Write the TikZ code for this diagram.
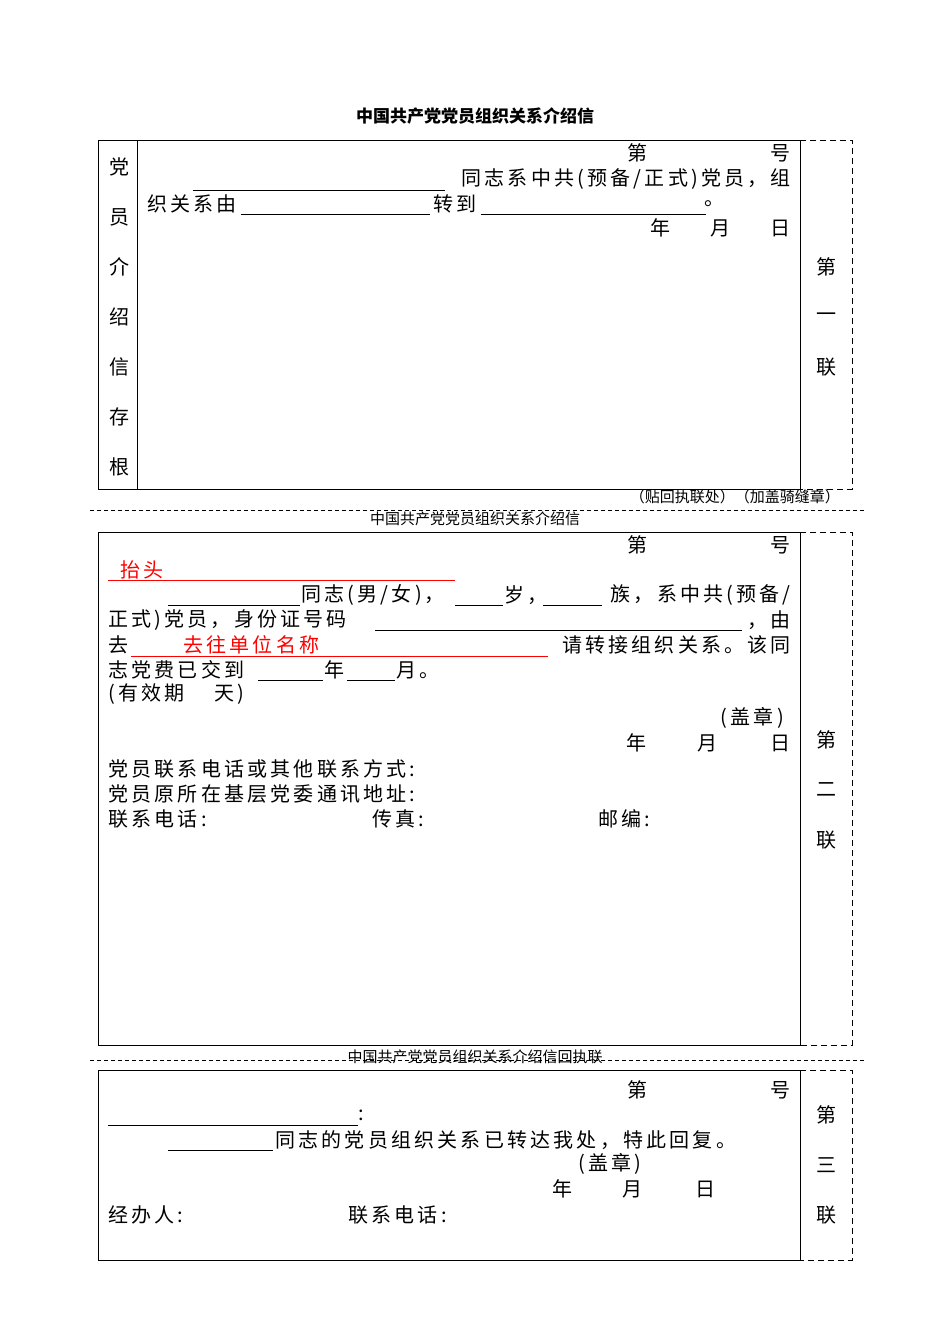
\documentclass[tikz,border=0pt]{standalone}
\usepackage{fontspec}
\setmainfont{Noto Sans CJK SC}[LetterSpace=16]
\newfontfamily\plainf{Noto Sans CJK SC}
\begin{document}
\begin{tikzpicture}[x=1pt,y=-1pt,
  t/.style={inner sep=0pt,font=\fontsize{20}{20}\selectfont},
  tw/.style={t,anchor=west},
  te/.style={t,anchor=east},
  sm/.style={inner sep=0pt,font=\plainf\fontsize{15}{15}\selectfont},
  ul/.style={line width=1pt},
  rul/.style={line width=1pt,red},
  dsh/.style={dashed,dash pattern=on 6pt off 4pt,line width=0.8pt},
  frame/.style={line width=0.8pt}]
\useasboundingbox (0,0) rectangle (950,1344);
\node[inner sep=0pt,font=\plainf\bfseries\fontsize{17}{17}\selectfont] (title) at (475,116) {中国共产党党员组织关系介绍信};
% section 1
\draw[frame] (98,140) rectangle (800,489);
\draw[frame] (137,140) -- (137,489);
\draw[dsh] (800,140) -- (852,140) -- (852,489) -- (800,489);
\foreach \c [count=\i] in {党,员,介,绍,信,存,根}
  \node[t] (l\i) at (119,117+50*\i) {\c};
\foreach \c [count=\i] in {第,一,联}
  \node[t] (r\i) at (826,217+50*\i) {\c};
\node[t] (a1) at (637,153) {第};
\node[t] (a2) at (780,153) {号};
\draw[ul] (193,190) -- (445,190);
\node[te] (a3) at (791,179) {同志系中共(预备/正式)党员，组};
\node[tw] (a4) at (147,204) {织关系由};
\draw[ul] (241,214) -- (430,214);
\node[tw] (a5) at (433,204) {转到};
\draw[ul] (481,214) -- (706,214);
\node[tw] (a6) at (704,204) {。};
\node[t] (a7) at (660,228) {年};
\node[t] (a8) at (720,228) {月};
\node[t] (a9) at (780,228) {日};
\node[sm,anchor=east] (a10) at (840,497) {（贴回执联处）（加盖骑缝章）};
\draw[dsh,dash pattern=on 4pt off 3pt] (90,510) -- (865,510);
\node[sm] (h2) at (475,519) {中国共产党党员组织关系介绍信};
% section 2
\draw[frame] (98,532) rectangle (800,1045);
\draw[dsh] (800,532) -- (852,532) -- (852,1045) -- (800,1045);
\foreach \c [count=\i] in {第,二,联}
  \node[t] (s\i) at (826,690+50*\i) {\c};
\node[t] (b1) at (637,545) {第};
\node[t] (b2) at (780,545) {号};
\node[tw,red] (b3) at (120,570) {抬头};
\draw[rul] (108,580) -- (455,580);
\draw[ul] (168,605) -- (300,605);
\node[tw] (b4) at (301,595) {同志(男/女)，};
\draw[ul] (455,605) -- (503,605);
\node[tw] (b5) at (504,595) {岁，};
\draw[ul] (543,605) -- (602,605);
\node[te] (b6) at (791,595) {族，系中共(预备/};
\node[tw] (b7) at (108,620) {正式)党员，身份证号码};
\draw[ul] (375,630) -- (742,630);
\node[te] (b8) at (791,620) {，由};
\node[tw] (b9) at (108,645) {去};
\draw[rul] (131,656) -- (548,656);
\node[tw,red] (b10) at (183,645) {去往单位名称};
\node[te] (b11) at (791,645) {请转接组织关系。该同};
\node[tw] (b12) at (108,670) {志党费已交到};
\draw[ul] (258,680) -- (323,680);
\node[tw] (b13) at (324,670) {年};
\draw[ul] (347,680) -- (395,680);
\node[tw] (b14) at (396,670) {月。};
\node[tw] (b15) at (108,694) {(有效期\hspace{30pt}天)};
\node[te] (b16) at (784,718) {(盖章)};
\node[t] (b17) at (636,743) {年};
\node[t] (b18) at (707,743) {月};
\node[t] (b19) at (780,743) {日};
\node[tw] (b20) at (108,769) {党员联系电话或其他联系方式:};
\node[tw] (b21) at (108,794) {党员原所在基层党委通讯地址:};
\node[tw] (b22) at (108,819) {联系电话:};
\node[tw] (b23) at (372,819) {传真:};
\node[tw] (b24) at (598,819) {邮编:};
\draw[dsh,dash pattern=on 4pt off 3pt] (90,1060) -- (865,1060);
\node[sm] (h3) at (475,1057) {中国共产党党员组织关系介绍信回执联};
% section 3
\draw[frame] (98,1070) rectangle (800,1260);
\draw[dsh] (800,1070) -- (852,1070) -- (852,1260) -- (800,1260);
\foreach \c [count=\i] in {第,三,联}
  \node[t] (u\i) at (826,1065+50*\i) {\c};
\node[t] (c1) at (637,1090) {第};
\node[t] (c2) at (780,1090) {号};
\draw[ul] (108,1125) -- (358,1125);
\node[tw] (c3) at (358,1115) {:};
\draw[ul] (168,1150) -- (273,1150);
\node[tw] (c4) at (275,1140) {同志的党员组织关系已转达我处，特此回复。};
\node[t] (c5) at (610,1164) {(盖章)};
\node[t] (c6) at (562,1189) {年};
\node[t] (c7) at (632,1189) {月};
\node[t] (c8) at (705,1189) {日};
\node[tw] (c9) at (108,1215) {经办人:};
\node[tw] (c10) at (348,1215) {联系电话:};
\end{tikzpicture}
\end{document}
